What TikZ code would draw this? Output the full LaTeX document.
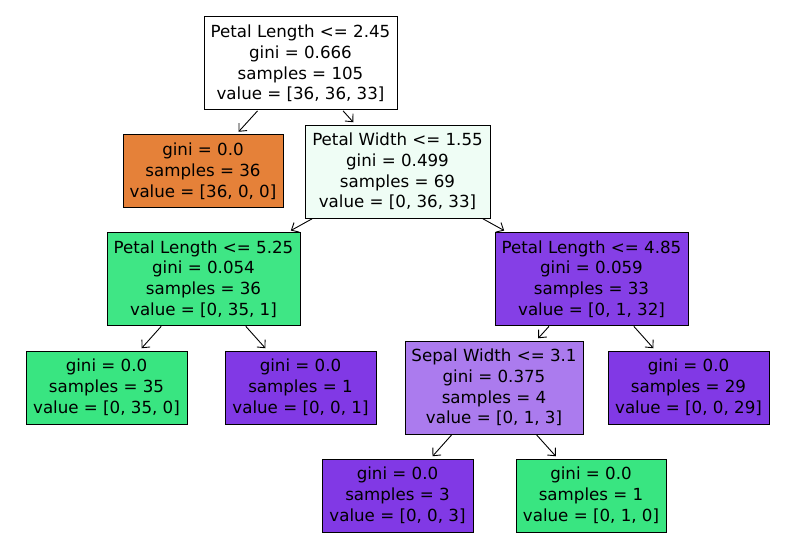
\documentclass[tikz,border=0pt]{standalone}
\usepackage{fontspec}
\setmainfont{DejaVu Sans}
\usetikzlibrary{arrows.meta}
\definecolor{corange}{HTML}{E58139}
\definecolor{cgreen}{HTML}{39E581}
\definecolor{cpurple}{HTML}{8139E5}
\definecolor{cpalegreen}{HTML}{EFFDF5}
\definecolor{cgreenb}{HTML}{3FE685}
\definecolor{cpurpleb}{HTML}{853FE6}
\definecolor{clilac}{HTML}{AB7BEE}
\begin{document}
\begin{tikzpicture}[x=1pt,y=-1pt,
  box/.style={draw=black, line width=1pt, align=center, inner sep=0pt,
    font=\fontsize{16.67}{20.8}\selectfont},
  split/.style={box, minimum width=193pt, minimum height=93pt},
  leaf/.style={box, minimum width=151pt, minimum height=73pt},
  edge/.style={-{Straight Barb[length=6pt,width=11pt]}, line width=0.9pt, shorten >=3pt, shorten <=0.5pt}]
\useasboundingbox (0,0) rectangle (794,559);
\node[split] (n0) at (300.5,63.5) {Petal Length <= 2.45\\gini = 0.666\\samples = 105\\value = [36, 36, 33]};
\node[leaf, fill=corange, minimum width=160pt] (n1) at (203,171) {gini = 0.0\\samples = 36\\value = [36, 0, 0]};
\node[split, fill=cpalegreen, minimum width=185pt] (n2) at (397.5,171.5) {Petal Width <= 1.55\\gini = 0.499\\samples = 69\\value = [0, 36, 33]};
\node[split, fill=cgreenb] (n3) at (203.5,279) {Petal Length <= 5.25\\gini = 0.054\\samples = 36\\value = [0, 35, 1]};
\node[split, fill=cpurpleb] (n4) at (591.5,279) {Petal Length <= 4.85\\gini = 0.059\\samples = 33\\value = [0, 1, 32]};
\node[leaf, fill=cgreen, minimum width=161pt] (n5) at (106.5,387.5) {gini = 0.0\\samples = 35\\value = [0, 35, 0]};
\node[leaf, fill=cpurple] (n6) at (300.5,387.5) {gini = 0.0\\samples = 1\\value = [0, 0, 1]};
\node[split, fill=clilac, minimum width=178pt] (n7) at (494,387.5) {Sepal Width <= 3.1\\gini = 0.375\\samples = 4\\value = [0, 1, 3]};
\node[leaf, fill=cpurple, minimum width=161pt] (n8) at (688.5,387.5) {gini = 0.0\\samples = 29\\value = [0, 0, 29]};
\node[leaf, fill=cpurple] (n9) at (397.5,495.5) {gini = 0.0\\samples = 3\\value = [0, 0, 3]};
\node[leaf, fill=cgreen, minimum width=150pt] (n10) at (591,495.5) {gini = 0.0\\samples = 1\\value = [0, 1, 0]};
\draw[edge] (n0) -- (n1);
\draw[edge] (n0) -- (n2);
\draw[edge] (n2) -- (n3);
\draw[edge] (n2) -- (n4);
\draw[edge] (n3) -- (n5);
\draw[edge] (n3) -- (n6);
\draw[edge] (n4) -- (n7);
\draw[edge] (n4) -- (n8);
\draw[edge] (n7) -- (n9);
\draw[edge] (n7) -- (n10);
\end{tikzpicture}
\end{document}
